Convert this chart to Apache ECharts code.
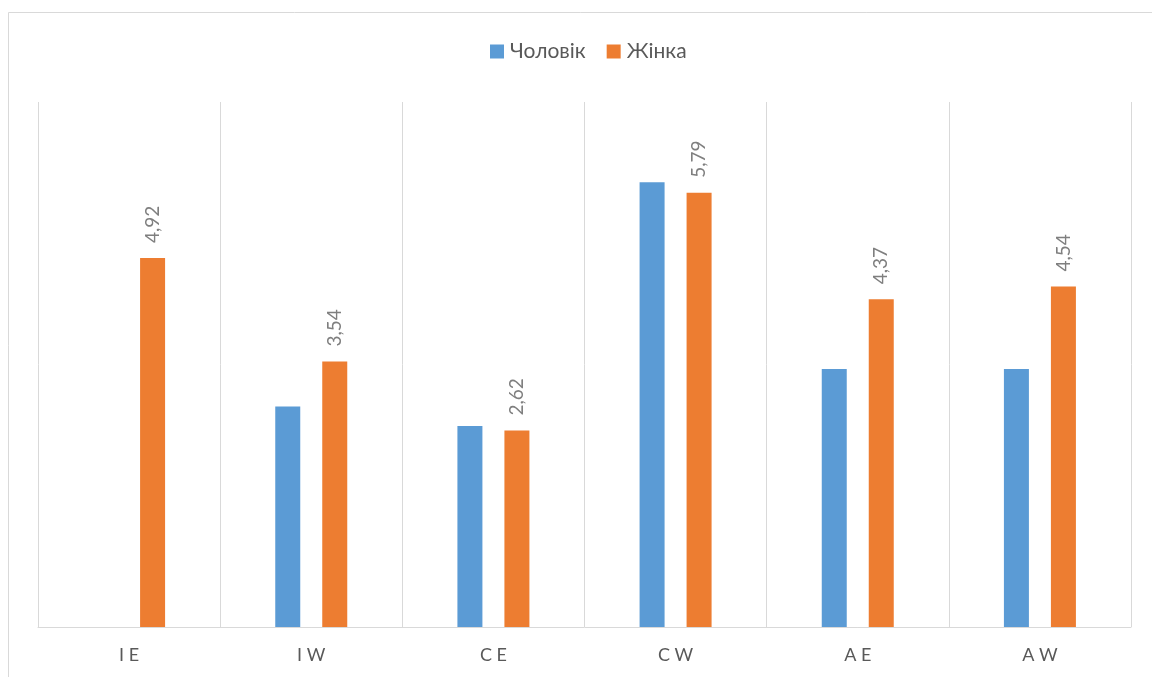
<!DOCTYPE html>
<html>
<head>
<meta charset="utf-8">
<script src="https://cdn.jsdelivr.net/npm/echarts@6/dist/echarts.min.js"></script>
<style>
html,body{margin:0;padding:0;background:#fff;}
#chart{width:1152px;height:677px;}
</style>
</head>
<body>
<div id="chart"></div>
<script>
const categories = ['IE', 'IW', 'CE', 'CW', 'AE', 'AW'];
const seriesNames = ['Чоловік', 'Жінка'];
const maleValues = [0, 2.94, 2.68, 5.93, 3.44, 3.44];
const femaleValues = [4.92, 3.54, 2.62, 5.79, 4.37, 4.54];

const FONT = 'Lato, "Open Sans", sans-serif';
const chart = echarts.init(document.getElementById('chart'), null, {renderer: 'canvas'});
chart.setOption({
  animation: false,
  backgroundColor: '#fff',
  graphic: [{
    type: 'rect',
    shape: {x: 8.5, y: 12.5, width: 1160, height: 680},
    style: {fill: 'none', stroke: '#D9D9D9', lineWidth: 1},
    silent: true,
    z: -1
  }],
  legend: {
    data: seriesNames,
    top: 36,
    left: 485,
    itemWidth: 14,
    itemHeight: 14,
    itemGap: 21,
    icon: 'rect',
    textStyle: {color: '#595959', fontSize: 21, fontFamily: FONT, padding: [0, 0, 0, 1]}
  },
  grid: {left: 38, right: 21, top: 102, bottom: 50, containLabel: false},
  xAxis: {
    type: 'category',
    data: categories,
    axisLine: {lineStyle: {color: '#D9D9D9', width: 1}},
    axisTick: {show: false},
    splitLine: {show: true, lineStyle: {color: '#D9D9D9', width: 1}},
    axisLabel: {
      color: '#595959', fontSize: 18, fontFamily: FONT, margin: 19,
      formatter: v => v.split('').join(' ')
    }
  },
  yAxis: {
    type: 'value',
    min: 0, max: 7, interval: 1,
    show: false,
    splitLine: {show: false}
  },
  series: [
    {
      name: seriesNames[0],
      type: 'bar',
      data: maleValues,
      barWidth: 25,
      barGap: '88%',
      itemStyle: {color: '#5B9BD5'}
    },
    {
      name: seriesNames[1],
      type: 'bar',
      data: femaleValues,
      barWidth: 25,
      itemStyle: {color: '#ED7D31'},
      label: {
        show: true,
        position: 'top',
        rotate: 90,
        align: 'left',
        verticalAlign: 'middle',
        distance: 15,
        color: '#7F7F7F',
        fontSize: 19,
        fontFamily: FONT,
        formatter: p => p.value.toFixed(2).replace('.', ',')
      }
    }
  ]
});
</script>
</body>
</html>
